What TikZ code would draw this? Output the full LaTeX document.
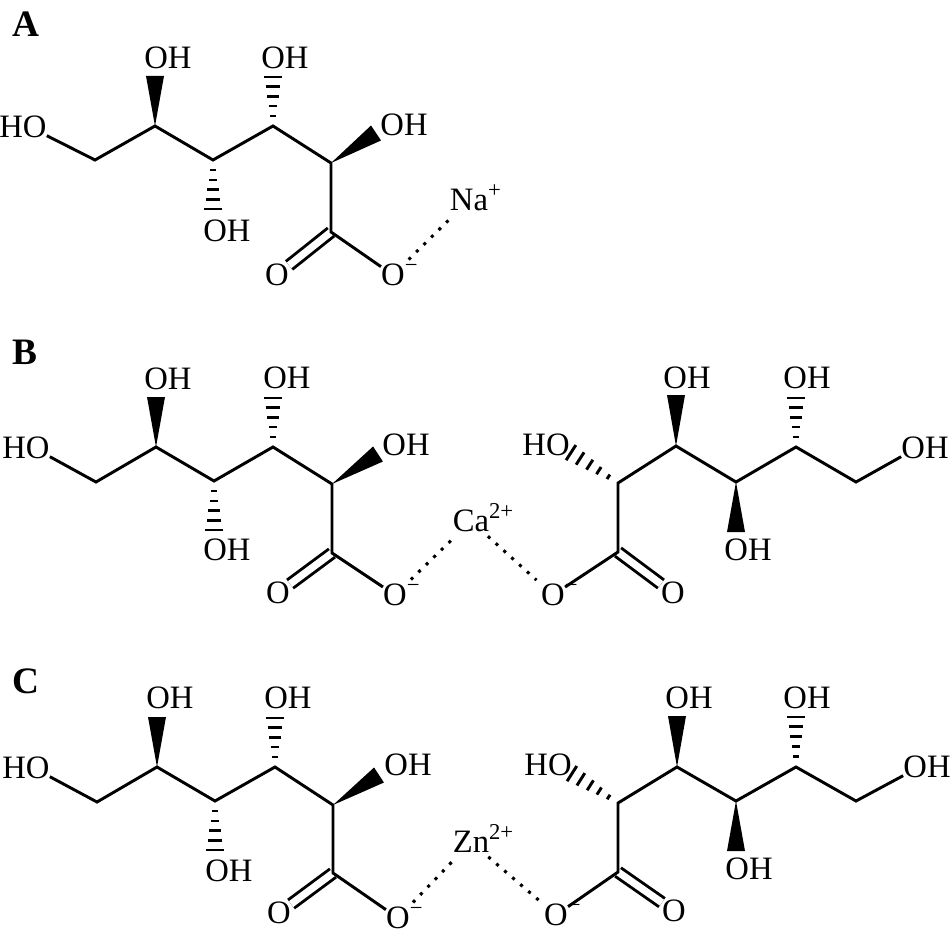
\documentclass[tikz,border=0pt]{standalone}
\usepackage{fontspec}
\setmainfont{Liberation Serif}
\usetikzlibrary{calc}
\tikzset{
  atom/.style={inner sep=0pt,font=\fontsize{24.5}{24.5}\selectfont},
  panel/.style={inner sep=0pt,font=\fontsize{28}{28}\selectfont\bfseries},
  bond/.style={line width=2.2pt},
  dbond/.style={line width=2.2pt,double,double distance=5.4pt},
  ionbond/.style={line width=2.3pt,dash pattern=on 2.3pt off 5.6pt,shorten <=4.5pt,shorten >=4.5pt}
}
\newcommand{\chg}[1]{\smash{\rlap{\raisebox{.4em}{\fontsize{17}{17}\selectfont #1}}}}
\newcommand{\wedgebond}[2]{\fill (#1) -- ($(#2)!6.75pt!90:(#1)$) -- ($(#2)!6.75pt!-90:(#1)$) -- cycle;}
\newcommand{\hashbond}[2]{\foreach \t/\w in {.2/2,.4/3.2,.59/4.4,.79/5.5,.98/6.75}
  {\draw[line width=2.2pt] ($(#1)!\t!(#2)!\w pt!90:(#2)$) -- ($(#1)!\t!(#2)!\w pt!-90:(#2)$);}}
\begin{document}
\begin{tikzpicture}[x=.75pt,y=-.75pt]
    \useasboundingbox (0,0) rectangle (952,938);

    % A
    \node[panel] (pa) at (26,24) {A};
    \coordinate (a6) at (95,160);
    \coordinate (a5) at (155,126);
    \coordinate (a4) at (213,160);
    \coordinate (a3) at (273,126);
    \coordinate (a2) at (331,163);
    \coordinate (a1) at (331,232);
    \coordinate (a5e) at (155,76);
    \coordinate (a4e) at (213,210);
    \coordinate (a3e) at (273,76);
    \coordinate (a2e) at (376,133);
    \node[atom] (a6h) at (23,127) {HO};
    \node[atom] (a5h) at (168,58) {OH};
    \node[atom] (a4h) at (227,231) {OH};
    \node[atom] (a3h) at (285,58) {OH};
    \node[atom] (a2h) at (404,125) {OH};
    \node[atom] (ao1) at (277,275) {O};
    \node[atom] (ao2) at (393,275) {O\chg{−}};
    \node[atom] (na) at (469,200) {Na\chg{+}};

    \draw[dbond] (a1) -- (ao1);
    \draw[bond] (a6h.-20) -- (a6) -- (a5) -- (a4) -- (a3) -- (a2) -- (a1) -- (ao2);
    \wedgebond{a5}{a5e}
    \hashbond{a4}{a4e}
    \hashbond{a3}{a3e}
    \wedgebond{a2}{a2e}
    \draw[ionbond] (ao2) -- (na);

    % B
    \node[panel] (pb) at (25,352) {B};
    \coordinate (b6) at (96,482);
    \coordinate (b5) at (156,447);
    \coordinate (b4) at (214,481);
    \coordinate (b3) at (273,447);
    \coordinate (b2) at (332,484);
    \coordinate (b1) at (332,553);
    \coordinate (b5e) at (156,397);
    \coordinate (b4e) at (214,531);
    \coordinate (b3e) at (273,397);
    \coordinate (b2e) at (378,454);
    \node[atom] (b6h) at (26,448) {HO};
    \node[atom] (b5h) at (168,379) {OH};
    \node[atom] (b4h) at (227,550) {OH};
    \node[atom] (b3h) at (287,378) {OH};
    \node[atom] (b2h) at (406,445) {OH};
    \node[atom] (bo1) at (278,593) {O};
    \node[atom] (bo2) at (395,595) {O\chg{−}};
    \node[atom] (ca) at (471,521) {Ca\chg{2+}};
    \coordinate (r6) at (856,482);
    \coordinate (r5) at (796,447);
    \coordinate (r4) at (736,482);
    \coordinate (r3) at (676,446);
    \coordinate (r2) at (618,483);
    \coordinate (r1) at (618,552);
    \coordinate (r5e) at (796,397);
    \coordinate (r4e) at (736,532);
    \coordinate (r3e) at (676,395);
    \coordinate (r2e) at (570,452);
    \node[atom] (r6h) at (925,448) {OH};
    \node[atom] (r5h) at (807,378) {OH};
    \node[atom] (r4h) at (748,550) {OH};
    \node[atom] (r3h) at (687,378) {OH};
    \node[atom] (r2h) at (546,445) {HO};
    \node[atom] (ro1) at (673,593) {O};
    \node[atom] (ro2) at (553,595) {O\chg{−}};

    \draw[dbond] (b1) -- (bo1);
    \draw[dbond] (r1) -- (ro1);
    \draw[bond] (b6h.-20) -- (b6) -- (b5) -- (b4) -- (b3) -- (b2) -- (b1) -- (bo2);
    \draw[bond] (r6h.200) -- (r6) -- (r5) -- (r4) -- (r3) -- (r2) -- (r1) -- (ro2);
    \wedgebond{b5}{b5e}
    \hashbond{b4}{b4e}
    \hashbond{b3}{b3e}
    \wedgebond{b2}{b2e}
    \hashbond{r5}{r5e}
    \wedgebond{r4}{r4e}
    \wedgebond{r3}{r3e}
    \hashbond{r2}{r2e}
    \draw[ionbond] (bo2) -- (ca);
    \draw[ionbond] (ca) -- (ro2);

    % C
    \node[panel] (pc) at (26,681) {C};
    \coordinate (c6) at (97,802);
    \coordinate (c5) at (157,767);
    \coordinate (c4) at (215,801);
    \coordinate (c3) at (275,767);
    \coordinate (c2) at (333,805);
    \coordinate (c1) at (333,873);
    \coordinate (c5e) at (157,717);
    \coordinate (c4e) at (215,851);
    \coordinate (c3e) at (275,717);
    \coordinate (c2e) at (379,775);
    \node[atom] (c6h) at (26,768) {HO};
    \node[atom] (c5h) at (170,698) {OH};
    \node[atom] (c4h) at (229,871) {OH};
    \node[atom] (c3h) at (288,698) {OH};
    \node[atom] (c2h) at (408,765) {OH};
    \node[atom] (co1) at (279,913) {O};
    \node[atom] (co2) at (398,918) {O\chg{−}};
    \node[atom] (zn) at (471,842) {Zn\chg{2+}};
    \coordinate (s6) at (856,801);
    \coordinate (s5) at (796,767);
    \coordinate (s4) at (736,801);
    \coordinate (s3) at (677,767);
    \coordinate (s2) at (618,803);
    \coordinate (s1) at (618,872);
    \coordinate (s5e) at (796,716);
    \coordinate (s4e) at (736,851);
    \coordinate (s3e) at (677,716);
    \coordinate (s2e) at (571,773);
    \node[atom] (s6h) at (927,767) {OH};
    \node[atom] (s5h) at (807,698) {OH};
    \node[atom] (s4h) at (749,869) {OH};
    \node[atom] (s3h) at (689,698) {OH};
    \node[atom] (s2h) at (548,765) {HO};
    \node[atom] (so1) at (674,911) {O};
    \node[atom] (so2) at (556,915) {O\chg{−}};

    \draw[dbond] (c1) -- (co1);
    \draw[dbond] (s1) -- (so1);
    \draw[bond] (c6h.-20) -- (c6) -- (c5) -- (c4) -- (c3) -- (c2) -- (c1) -- (co2);
    \draw[bond] (s6h.200) -- (s6) -- (s5) -- (s4) -- (s3) -- (s2) -- (s1) -- (so2);
    \wedgebond{c5}{c5e}
    \hashbond{c4}{c4e}
    \hashbond{c3}{c3e}
    \wedgebond{c2}{c2e}
    \hashbond{s5}{s5e}
    \wedgebond{s4}{s4e}
    \wedgebond{s3}{s3e}
    \hashbond{s2}{s2e}
    \draw[ionbond] (co2) -- (zn);
    \draw[ionbond] (zn) -- (so2);
\end{tikzpicture}
\end{document}
